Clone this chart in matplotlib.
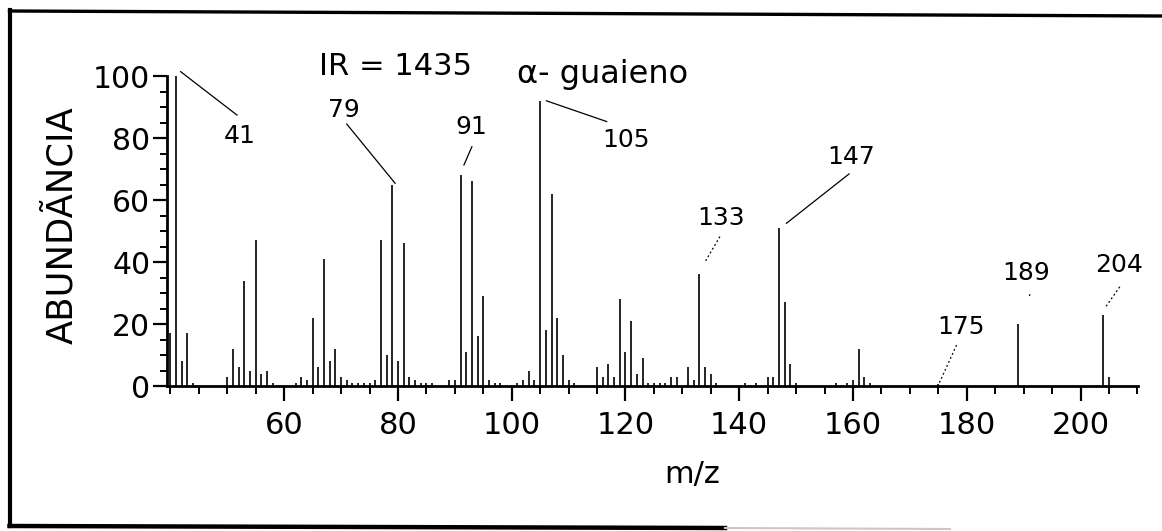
import matplotlib.pyplot as plt
from matplotlib.lines import Line2D
from matplotlib.ticker import MultipleLocator, FixedLocator

# espectro de massas do alfa-guaieno (m/z, abundancia relativa %)
mz = [40, 41, 42, 43, 44, 50, 51, 52, 53, 54, 55, 56, 57, 58,
      62, 63, 64, 65, 66, 67, 68, 69, 70, 71, 72, 73, 74, 75, 76,
      77, 78, 79, 80, 81, 82, 83, 84, 85, 86, 89, 90,
      91, 92, 93, 94, 95, 96, 97, 98, 101, 102, 103, 104,
      105, 106, 107, 108, 109, 110, 111, 115, 116, 117, 118,
      119, 120, 121, 122, 123, 124, 125, 126, 127, 128, 129,
      131, 132, 133, 134, 135, 136, 141, 143, 145, 146,
      147, 148, 149, 150, 157, 159, 160, 161, 162, 163,
      175, 189, 204, 205]
abund = [17, 100, 8, 17, 1, 3, 12, 6, 34, 5, 47, 4, 5, 1,
         1, 3, 2, 22, 6, 41, 8, 12, 3, 2, 1, 1, 1, 1, 2,
         47, 10, 65, 8, 46, 3, 2, 1, 1, 1, 2, 2,
         68, 11, 66, 16, 29, 2, 1, 1, 1, 2, 5, 2,
         92, 18, 62, 22, 10, 2, 1, 6, 3, 7, 3,
         28, 11, 21, 4, 9, 1, 1, 1, 1, 3, 3,
         6, 2, 36, 6, 4, 1, 1, 1, 3, 3,
         51, 27, 7, 1, 1, 1, 2, 12, 3, 1,
         0.5, 20, 23, 3]

# picos identificados no grafico
peak_labels = ["41", "79", "91", "105", "133", "147", "175", "189", "204"]
label_pos = [(52.2, 80.6), (70.5, 89.0), (92.8, 83.5), (120.1, 79.4),
             (136.8, 54.2), (159.6, 73.9), (178.9, 19.0), (190.4, 36.5),
             (206.7, 39.0)]
leader_start = [(41.8, 101.4), (71.0, 84.5), (93.0, 77.2), (106.1, 92.0),
                (136.6, 48.2), (159.3, 68.4), (178.2, 13.2), (191.1, 29.6),
                (206.9, 32.0)]
leader_end = [(51.7, 87.4), (79.5, 65.4), (91.6, 71.3), (116.7, 85.3),
              (134.0, 40.1), (148.3, 52.5), (175.0, 0.3), (191.0, 29.0),
              (204.3, 25.2)]
leader_dotted = [False, False, False, False, True, False, True, True, True]

fig = plt.figure(figsize=(11.62, 5.31), dpi=100)
ax = fig.add_axes([167 / 1162, 145 / 531, 971 / 1162, 365.8 / 531])

ax.vlines(mz, 0, abund, colors="black", linewidth=1.2)

ax.set_xlim(39.4, 210.1)
ax.set_ylim(0, 118)

for s in ["top", "right"]:
    ax.spines[s].set_visible(False)
ax.spines["left"].set_bounds(0, 100)
ax.spines["left"].set_linewidth(2)
ax.spines["bottom"].set_linewidth(2)

ax.set_xticks(range(60, 201, 20))
ax.xaxis.set_minor_locator(MultipleLocator(5))
ax.set_yticks(range(0, 101, 20))
ax.yaxis.set_minor_locator(FixedLocator(range(0, 101, 5)))

ax.tick_params(axis="x", which="major", length=11, width=1.6, pad=7, labelsize=22)
ax.tick_params(axis="x", which="minor", length=5.5, width=1.4)
ax.tick_params(axis="y", which="major", length=10, width=1.6, pad=2, labelsize=21.5)
ax.tick_params(axis="y", which="minor", length=5, width=1.4)

for lab, (tx, ty), (x0, y0), (x1, y1), dotted in zip(
        peak_labels, label_pos, leader_start, leader_end, leader_dotted):
    ax.text(tx, ty, lab, fontsize=18, ha="center", va="center", clip_on=False)
    ls = (0, (1.5, 2.0)) if dotted else "-"
    ax.plot([x0, x1], [y0, y1], color="black", linewidth=0.9,
            linestyle=ls, clip_on=False)

ax.text(79.5, 100.3, "IR = 1435", fontsize=22, ha="center", va="baseline")
ax.text(115.9, 97.7, "α- guaieno", fontsize=23, ha="center", va="baseline")

fig.text(62 / 1162, 1 - 225 / 531, "ABUNDÃNCIA", rotation=90,
         fontsize=25.5, ha="center", va="center")
fig.text(692 / 1162, 1 - 474 / 531, "m/z", fontsize=22,
         ha="center", va="center")

# moldura da figura
W, H = 1162, 531
frame = [((9.5, 9.5), (10, 526), 3.0, "black"),
         ((9.5, 1162), (11, 16), 2.4, "black"),
         ((9.5, 725), (526, 528), 3.2, "black"),
         ((725, 950), (528, 529), 1.5, "#c8c8c8")]
for xs, ys, lw, c in frame:
    fig.add_artist(Line2D([x / W for x in xs], [1 - y / H for y in ys],
                          transform=fig.transFigure, color=c, linewidth=lw))

fig.savefig("out.png", dpi=100)
